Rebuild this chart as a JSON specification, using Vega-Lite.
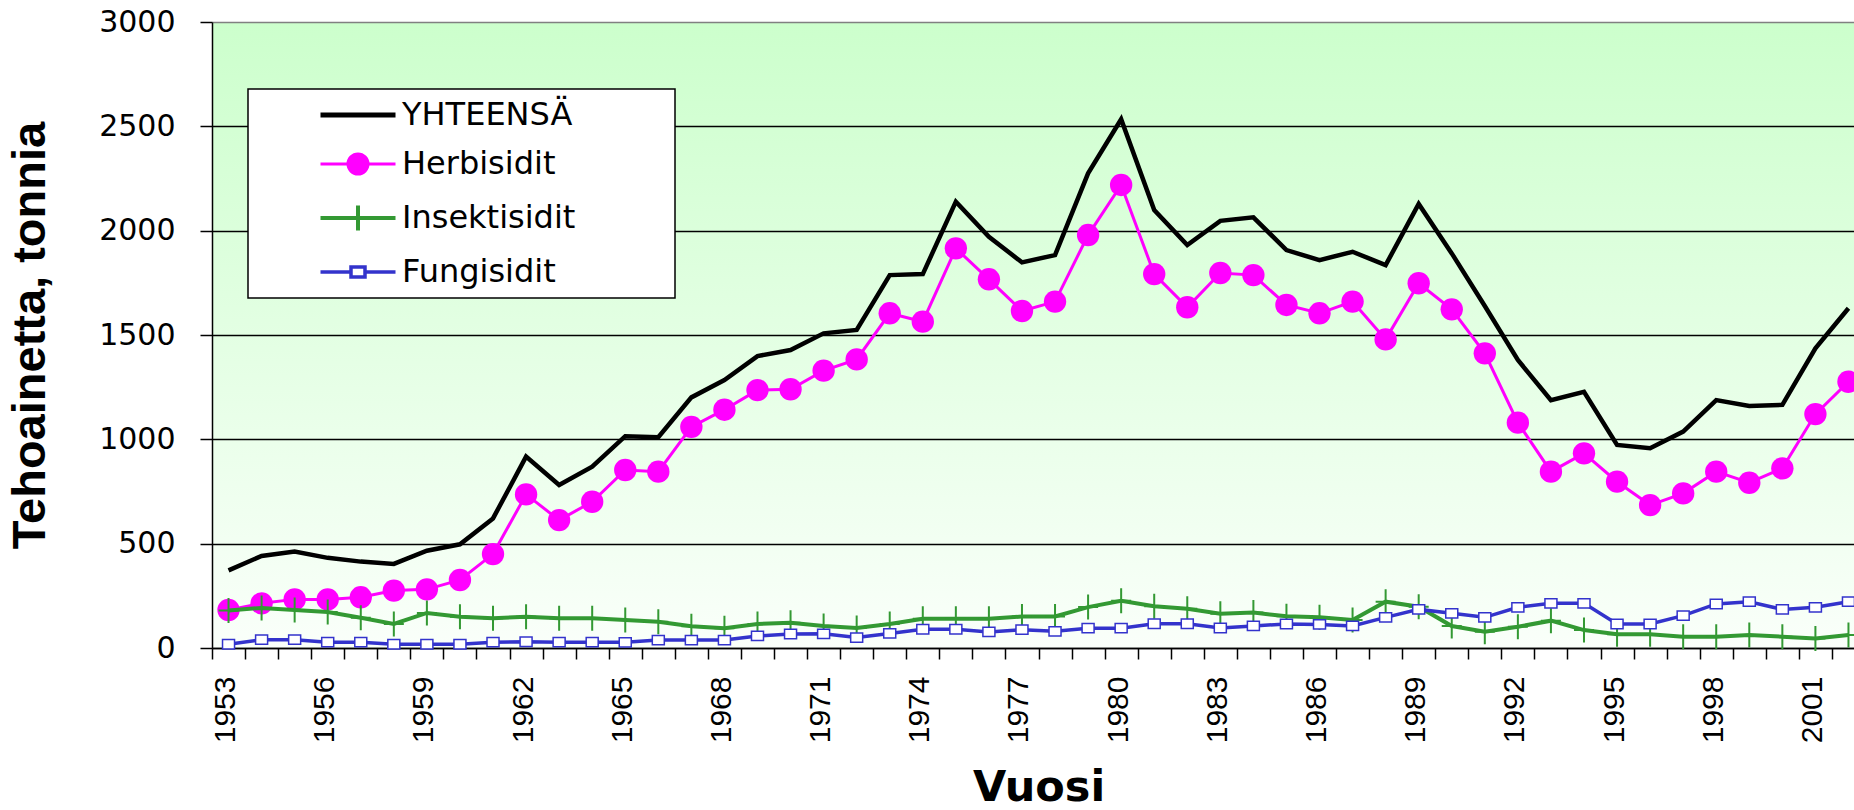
{
  "$schema": "https://vega.github.io/schema/vega-lite/v6.json",
  "width": 1642,
  "height": 626,
  "autosize": {"type": "none"},
  "padding": {"left": 212, "top": 22, "right": 0, "bottom": 162},
  "background": "#ffffff",
  "config": {
    "view": {
      "stroke": null,
      "fill": {"gradient": "linear", "x1": 0, "y1": 0, "x2": 0, "y2": 1,
        "stops": [{"offset": 0, "color": "#ccffcc"}, {"offset": 1, "color": "#fafffa"}]}
    }
  },
  "data": {"values": [
    {"year": 1953, "YHTEENSÄ": 372, "Herbisidit": 182, "Insektisidit": 180, "Fungisidit": 18},
    {"year": 1954, "YHTEENSÄ": 441, "Herbisidit": 214, "Insektisidit": 192, "Fungisidit": 40},
    {"year": 1955, "YHTEENSÄ": 462, "Herbisidit": 233, "Insektisidit": 182, "Fungisidit": 40},
    {"year": 1956, "YHTEENSÄ": 432, "Herbisidit": 233, "Insektisidit": 172, "Fungisidit": 28},
    {"year": 1957, "YHTEENSÄ": 414, "Herbisidit": 243, "Insektisidit": 145, "Fungisidit": 28},
    {"year": 1958, "YHTEENSÄ": 403, "Herbisidit": 275, "Insektisidit": 115, "Fungisidit": 18},
    {"year": 1959, "YHTEENSÄ": 466, "Herbisidit": 281, "Insektisidit": 168, "Fungisidit": 18},
    {"year": 1960, "YHTEENSÄ": 497, "Herbisidit": 326, "Insektisidit": 150, "Fungisidit": 18},
    {"year": 1961, "YHTEENSÄ": 621, "Herbisidit": 450, "Insektisidit": 142, "Fungisidit": 28},
    {"year": 1962, "YHTEENSÄ": 917, "Herbisidit": 736, "Insektisidit": 150, "Fungisidit": 30},
    {"year": 1963, "YHTEENSÄ": 781, "Herbisidit": 613, "Insektisidit": 142, "Fungisidit": 28},
    {"year": 1964, "YHTEENSÄ": 869, "Herbisidit": 701, "Insektisidit": 142, "Fungisidit": 28},
    {"year": 1965, "YHTEENSÄ": 1015, "Herbisidit": 853, "Insektisidit": 134, "Fungisidit": 27},
    {"year": 1966, "YHTEENSÄ": 1010, "Herbisidit": 845, "Insektisidit": 126, "Fungisidit": 38},
    {"year": 1967, "YHTEENSÄ": 1201, "Herbisidit": 1060, "Insektisidit": 104, "Fungisidit": 38},
    {"year": 1968, "YHTEENSÄ": 1284, "Herbisidit": 1142, "Insektisidit": 95, "Fungisidit": 38},
    {"year": 1969, "YHTEENSÄ": 1399, "Herbisidit": 1236, "Insektisidit": 115, "Fungisidit": 58},
    {"year": 1970, "YHTEENSÄ": 1428, "Herbisidit": 1240, "Insektisidit": 121, "Fungisidit": 67},
    {"year": 1971, "YHTEENSÄ": 1508, "Herbisidit": 1329, "Insektisidit": 106, "Fungisidit": 68},
    {"year": 1972, "YHTEENSÄ": 1524, "Herbisidit": 1383, "Insektisidit": 96, "Fungisidit": 50},
    {"year": 1973, "YHTEENSÄ": 1787, "Herbisidit": 1604, "Insektisidit": 115, "Fungisidit": 70},
    {"year": 1974, "YHTEENSÄ": 1792, "Herbisidit": 1564, "Insektisidit": 140, "Fungisidit": 90},
    {"year": 1975, "YHTEENSÄ": 2139, "Herbisidit": 1915, "Insektisidit": 140, "Fungisidit": 90},
    {"year": 1976, "YHTEENSÄ": 1971, "Herbisidit": 1767, "Insektisidit": 140, "Fungisidit": 77},
    {"year": 1977, "YHTEENSÄ": 1848, "Herbisidit": 1615, "Insektisidit": 151, "Fungisidit": 88},
    {"year": 1978, "YHTEENSÄ": 1883, "Herbisidit": 1660, "Insektisidit": 151, "Fungisidit": 80},
    {"year": 1979, "YHTEENSÄ": 2275, "Herbisidit": 1979, "Insektisidit": 196, "Fungisidit": 95},
    {"year": 1980, "YHTEENSÄ": 2534, "Herbisidit": 2219, "Insektisidit": 226, "Fungisidit": 95},
    {"year": 1981, "YHTEENSÄ": 2099, "Herbisidit": 1792, "Insektisidit": 200, "Fungisidit": 116},
    {"year": 1982, "YHTEENSÄ": 1931, "Herbisidit": 1633, "Insektisidit": 188, "Fungisidit": 116},
    {"year": 1983, "YHTEENSÄ": 2047, "Herbisidit": 1797, "Insektisidit": 164, "Fungisidit": 96},
    {"year": 1984, "YHTEENSÄ": 2064, "Herbisidit": 1787, "Insektisidit": 170, "Fungisidit": 106},
    {"year": 1985, "YHTEENSÄ": 1907, "Herbisidit": 1644, "Insektisidit": 152, "Fungisidit": 115},
    {"year": 1986, "YHTEENSÄ": 1859, "Herbisidit": 1604, "Insektisidit": 147, "Fungisidit": 113},
    {"year": 1987, "YHTEENSÄ": 1899, "Herbisidit": 1660, "Insektisidit": 134, "Fungisidit": 106},
    {"year": 1988, "YHTEENSÄ": 1835, "Herbisidit": 1479, "Insektisidit": 222, "Fungisidit": 147},
    {"year": 1989, "YHTEENSÄ": 2128, "Herbisidit": 1748, "Insektisidit": 198, "Fungisidit": 185},
    {"year": 1990, "YHTEENSÄ": 1891, "Herbisidit": 1623, "Insektisidit": 105, "Fungisidit": 166},
    {"year": 1991, "YHTEENSÄ": 1639, "Herbisidit": 1412, "Insektisidit": 78, "Fungisidit": 147},
    {"year": 1992, "YHTEENSÄ": 1380, "Herbisidit": 1080, "Insektisidit": 102, "Fungisidit": 195},
    {"year": 1993, "YHTEENSÄ": 1188, "Herbisidit": 845, "Insektisidit": 131, "Fungisidit": 214},
    {"year": 1994, "YHTEENSÄ": 1228, "Herbisidit": 933, "Insektisidit": 86, "Fungisidit": 214},
    {"year": 1995, "YHTEENSÄ": 973, "Herbisidit": 797, "Insektisidit": 66, "Fungisidit": 115},
    {"year": 1996, "YHTEENSÄ": 957, "Herbisidit": 685, "Insektisidit": 66, "Fungisidit": 115},
    {"year": 1997, "YHTEENSÄ": 1037, "Herbisidit": 741, "Insektisidit": 54, "Fungisidit": 155},
    {"year": 1998, "YHTEENSÄ": 1188, "Herbisidit": 845, "Insektisidit": 54, "Fungisidit": 211},
    {"year": 1999, "YHTEENSÄ": 1160, "Herbisidit": 792, "Insektisidit": 62, "Fungisidit": 222},
    {"year": 2000, "YHTEENSÄ": 1165, "Herbisidit": 861, "Insektisidit": 54, "Fungisidit": 185},
    {"year": 2001, "YHTEENSÄ": 1436, "Herbisidit": 1121, "Insektisidit": 46, "Fungisidit": 195},
    {"year": 2002, "YHTEENSÄ": 1628, "Herbisidit": 1276, "Insektisidit": 62, "Fungisidit": 222}
  ]},
  "transform": [
    {"fold": ["YHTEENSÄ", "Herbisidit", "Insektisidit", "Fungisidit"], "as": ["series", "value"]}
  ],
  "encoding": {
    "x": {
      "field": "year", "type": "ordinal",
      "scale": {"type": "band", "paddingInner": 0, "paddingOuter": 0, "range": [0, 1653]},
      "axis": {
        "title": "Vuosi",
        "tickBand": "extent",
        "labelAngle": -90,
        "labelExpr": "datum.value % 3 == 0 ? datum.label : ''",
        "labelFont": "Liberation Sans", "labelFontSize": 30, "labelColor": "#000000",
        "labelPadding": 17, "labelOffset": -3,
        "labelOverlap": false, "labelBound": false, "labelFlush": false,
        "tickSize": 11, "tickColor": "#000000", "tickWidth": 1.5,
        "domainColor": "#000000", "domainWidth": 1.5,
        "grid": false,
        "titleFont": "DejaVu Sans", "titleFontWeight": "bold", "titleFontSize": 43,
        "titleColor": "#000000", "titlePadding": 24
      }
    },
    "y": {
      "field": "value", "type": "quantitative",
      "scale": {"domain": [0, 3000], "nice": false},
      "axis": {
        "title": "Tehoainetta, tonnia",
        "values": [0, 500, 1000, 1500, 2000, 2500, 3000],
        "format": "d",
        "grid": true,
        "gridColor": {"condition": {"test": "datum.value >= 3000", "value": "#808080"}, "value": "#000000"},
        "gridWidth": 1.3,
        "domainColor": "#000000", "domainWidth": 1.5,
        "tickSize": 12, "tickColor": "#000000", "tickWidth": 1.5,
        "labelFont": "DejaVu Sans", "labelFontSize": 30, "labelColor": "#000000", "labelPadding": 25,
        "titleFont": "Liberation Sans", "titleFontWeight": "bold", "titleFontSize": 47,
        "titleColor": "#000000", "titlePadding": 44
      }
    }
  },
  "layer": [
    {
      "transform": [{"filter": "datum.series == 'YHTEENSÄ'"}],
      "mark": {"type": "line", "strokeWidth": 4.5},
      "encoding": {
        "color": {
          "field": "series", "type": "nominal",
          "scale": {"domain": ["YHTEENSÄ", "Herbisidit", "Insektisidit", "Fungisidit"], "range": ["#000000", "#ff00ff", "#339933", "#3333cc"]},
          "legend": {
            "title": null, "orient": "none", "legendX": 36, "legendY": 67,
            "fillColor": "#ffffff", "strokeColor": "#000000", "padding": 10, "rowPadding": 17,
            "symbolSize": 400, "symbolOffset": 84, "labelOffset": 28,
            "labelFont": "DejaVu Sans", "labelFontSize": 32, "labelColor": "#000000", "labelLimit": 0,
            "symbolStrokeWidth": 3,
            "encode": {
              "symbols": {"update": {
                "shape": {"signal": "datum.value == 'YHTEENSÄ' ? 'M-3.75,0H3.75M-10,0M29.7,0' : datum.value == 'Herbisidit' ? 'M-3.75,0H3.75M1,0A1,1,0,1,1,-1,0A1,1,0,1,1,1,0ZM-10,0M29.7,0' : datum.value == 'Insektisidit' ? 'M-3.75,0H3.75M0,-1.25V1.25M-10,0M29.7,0' : 'M-3.75,0H-0.7M0.7,0H3.75M-0.7,-0.5H0.7V0.5H-0.7ZM-10,0M29.7,0'"},
                "fill": {"signal": "datum.value == 'Herbisidit' ? '#ff00ff' : datum.value == 'Fungisidit' ? '#ffffff' : 'transparent'"},
                "stroke": {"signal": "datum.value == 'YHTEENSÄ' ? '#000000' : datum.value == 'Herbisidit' ? '#ff00ff' : datum.value == 'Insektisidit' ? '#339933' : '#3333cc'"},
                "strokeWidth": {"signal": "datum.value == 'YHTEENSÄ' ? 5 : datum.value == 'Herbisidit' ? 3 : datum.value == 'Insektisidit' ? 4 : 3.5"},
                "opacity": {"value": 1}
              }},
              "legend": {"update": {"strokeWidth": {"value": 1.5}}}
            }
          }
        }
      }
    },
    {
      "transform": [{"filter": "datum.series == 'Herbisidit'"}],
      "mark": {"type": "line", "strokeWidth": 3},
      "encoding": {"color": {"field": "series", "type": "nominal"}}
    },
    {
      "transform": [{"filter": "datum.series == 'Herbisidit'"}],
      "mark": {"type": "point", "shape": "circle", "filled": true, "fill": "#ff00ff", "strokeWidth": 0, "size": 500, "opacity": 1}
    },
    {
      "transform": [{"filter": "datum.series == 'Insektisidit'"}],
      "mark": {"type": "line", "strokeWidth": 4},
      "encoding": {"color": {"field": "series", "type": "nominal"}}
    },
    {
      "transform": [{"filter": "datum.series == 'Insektisidit'"}],
      "mark": {"type": "point", "shape": "M0,-1V1M-0.8,0H0.8", "filled": false, "stroke": "#339933", "strokeWidth": 2, "size": 625, "opacity": 1}
    },
    {
      "transform": [{"filter": "datum.series == 'Fungisidit'"}],
      "mark": {"type": "line", "strokeWidth": 3.5},
      "encoding": {"color": {"field": "series", "type": "nominal"}}
    },
    {
      "transform": [{"filter": "datum.series == 'Fungisidit'"}],
      "mark": {"type": "point", "shape": "M-1,-0.78H1V0.78H-1Z", "filled": true, "fill": "#ffffff", "stroke": "#3333cc", "strokeWidth": 1.5, "size": 144, "opacity": 1}
    }
  ]
}
